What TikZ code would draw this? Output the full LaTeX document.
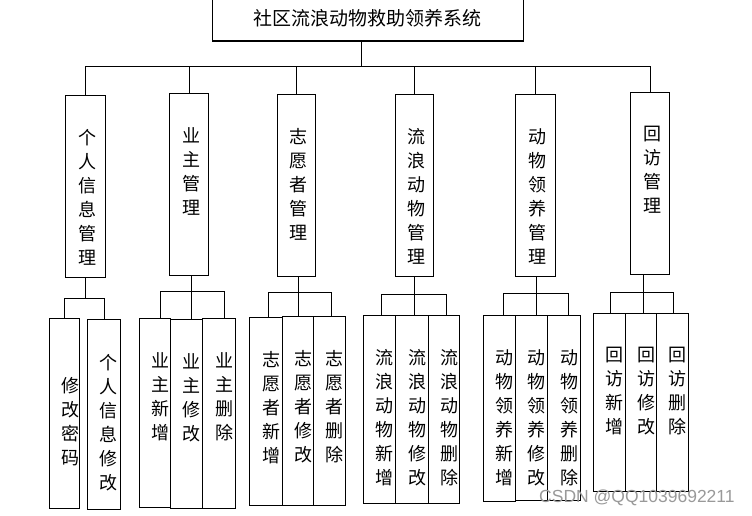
\documentclass[tikz,border=0pt]{standalone}
\usepackage{fontspec}
\setmainfont{Noto Sans CJK SC}
\newfontfamily\wmfont{Liberation Sans}
\usetikzlibrary{positioning}

\tikzset{
  link/.style={draw=black,line width=1.1pt},
  topbox/.style={draw=black,line width=1.1pt,anchor=north west,inner sep=0pt,
    minimum width=310.5pt,minimum height=45.5pt,font=\fontsize{19}{19}\selectfont},
  midbox/.style={draw=black,line width=1.1pt,anchor=north west,inner sep=0pt,
    minimum width=#1,minimum height=182pt},
  leafbox/.style 2 args={draw=black,line width=1.1pt,anchor=north west,inner sep=0pt,
    minimum width=#1,minimum height=#2},
  vlab/.style={anchor=north,align=center,inner sep=0pt,xshift=#1,yshift=-34pt,
    font=\fontsize{18}{24}\selectfont},
  clab/.style={anchor=center,align=center,inner sep=0pt,xshift=#1,yshift=-8pt,
    font=\fontsize{18}{24}\selectfont},
  wmark/.style={anchor=west,inner sep=0pt,text=black!40,font=\wmfont\fontsize{17.5}{17.5}\selectfont}
}

\begin{document}
\begin{tikzpicture}[x=1pt,y=-1pt]
  \useasboundingbox (0,0) rectangle (752,516);

  % system
  \node[topbox] (title) at (212,-5) {社区流浪动物救助领养系统};

  % modules
  \node[midbox=40pt,label={[vlab=2pt]north:个\\人\\信\\息\\管\\理}] (m1) at (65.3,95.3) {};
  \node[midbox=39pt,label={[vlab=2pt]north:业\\主\\管\\理}] (m2) at (169.3,93.3) {};
  \node[midbox=38pt,label={[vlab=2pt]north:志\\愿\\者\\管\\理}] (m3) at (277.3,94.3) {};
  \node[midbox=38pt,label={[vlab=2pt]north:流\\浪\\动\\物\\管\\理}] (m4) at (395.3,94.3) {};
  \node[midbox=40pt,label={[vlab=2pt]north:动\\物\\领\\养\\管\\理}] (m5) at (515.3,94.3) {};
  \node[midbox=39pt,label={[vlab=2pt]north:回\\访\\管\\理}] (m6) at (630.3,92.3) {};

  % functions
  \node[leafbox={30pt}{190pt},label={[clab=6pt]center:修\\改\\密\\码}] (c11) at (49.3,318.3) {};
  \node[leafbox={33.6pt}{190.6pt},label={[clab=4pt]center:个\\人\\信\\息\\修\\改}] (c12) at (86.7,318.7) {};

  \node[leafbox={31.6pt}{189pt},label={[vlab=5pt]north:业\\主\\新\\增}] (c21) at (138.7,318.3) {};
  \node[leafbox={32pt}{189pt},label={[vlab=5pt]north:业\\主\\修\\改}] (c22) at (170.3,319.3) {};
  \node[leafbox={33pt}{190pt},label={[vlab=5pt]north:业\\主\\删\\除}] (c23) at (202.3,318.3) {};

  \node[leafbox={32.4pt}{188pt},label={[vlab=5pt]north:志\\愿\\者\\新\\增}] (c31) at (249.3,317.3) {};
  \node[leafbox={31.6pt}{189pt},label={[vlab=5pt]north:志\\愿\\者\\修\\改}] (c32) at (281.7,316.3) {};
  \node[leafbox={32pt}{189pt},label={[vlab=5pt]north:志\\愿\\者\\删\\除}] (c33) at (313.3,316.3) {};

  \node[leafbox={32pt}{188.3pt},label={[vlab=5pt]north:流\\浪\\动\\物\\新\\增}] (c41) at (363.3,315) {};
  \node[leafbox={33pt}{187.5pt},label={[vlab=5pt]north:流\\浪\\动\\物\\修\\改}] (c42) at (395.3,315) {};
  \node[leafbox={31pt}{187.5pt},label={[vlab=5pt]north:流\\浪\\动\\物\\删\\除}] (c43) at (428.3,315) {};

  \node[leafbox={32pt}{185.7pt},label={[vlab=5pt]north:动\\物\\领\\养\\新\\增}] (c51) at (483.3,315.3) {};
  \node[leafbox={32pt}{184.7pt},label={[vlab=5pt]north:动\\物\\领\\养\\修\\改}] (c52) at (515.3,315.3) {};
  \node[leafbox={33pt}{184.7pt},label={[vlab=5pt]north:动\\物\\领\\养\\删\\除}] (c53) at (547.3,315.3) {};

  \node[leafbox={32pt}{177.7pt},label={[vlab=5pt]north:回\\访\\新\\增}] (c61) at (593.3,313.3) {};
  \node[leafbox={31pt}{177.7pt},label={[vlab=5pt]north:回\\访\\修\\改}] (c62) at (625.3,313.3) {};
  \node[leafbox={32pt}{177.7pt},label={[vlab=5pt]north:回\\访\\删\\除}] (c63) at (656.3,313.3) {};

  % system -> modules
  \coordinate (bus) at (361.7,66.3);
  \draw[link] (title.south -| bus) -- (bus);
  \draw[link] (m1.north) |- (bus) -| (m6.north);
  \draw[link] (m2.north) -- (m2.north |- bus);
  \draw[link] (m3.north) -- (m3.north |- bus);
  \draw[link] (m4.north) -- (m4.north |- bus);
  \draw[link] (m5.north) -- (m5.north |- bus);

  % modules -> functions
  \coordinate (s1) at (85.7,298.7);
  \draw[link] (m1.south -| s1) -- (s1);
  \draw[link] (c11.north) |- (s1) -| (c12.north);

  \coordinate (s2) at (191.7,291.3);
  \draw[link] (m2.south -| s2) -- (c22.north -| s2);
  \draw[link] ([xshift=5pt]c21.north) |- (s2) -| ([xshift=5pt]c23.north);

  \coordinate (s3) at (298.3,292.7);
  \draw[link] (m3.south -| s3) -- (c32.north -| s3);
  \draw[link] ([xshift=2pt]c31.north) |- (s3) -| ([xshift=2pt]c33.north);

  \coordinate (s4) at (414.3,294.3);
  \draw[link] (m4.south -| s4) -- (c42.north -| s4);
  \draw[link] ([xshift=2pt]c41.north) |- (s4) -| ([xshift=2pt]c43.north);

  \coordinate (s5) at (536.3,293.7);
  \draw[link] (m5.south -| s5) -- (c52.north -| s5);
  \draw[link] ([xshift=4pt]c51.north) |- (s5) -| ([xshift=4pt]c53.north);

  \coordinate (s6) at (643.3,292.7);
  \draw[link] (m6.south -| s6) -- (c62.north -| s6);
  \draw[link] ([xshift=1pt]c61.north) |- (s6) -| ([xshift=1pt]c63.north);

  \node[wmark] (wm) at (539,498) {CSDN @QQ1039692211};
\end{tikzpicture}
\end{document}
